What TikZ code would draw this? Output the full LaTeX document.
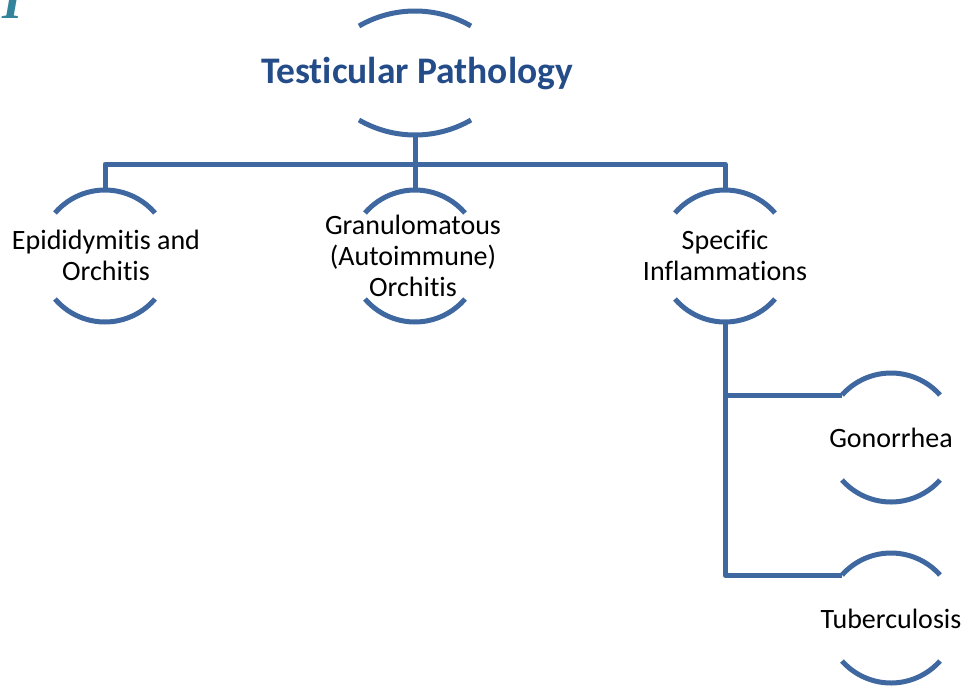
\documentclass[tikz,border=0pt]{standalone}
\usepackage{fontspec}
\setmainfont{Carlito}[Ligatures={NoCommon}]
\newfontfamily\fragserif{Liberation Serif}
\definecolor{arcblue}{RGB}{64,104,160}
\definecolor{titleblue}{RGB}{36,76,136}
\definecolor{slideteal}{RGB}{49,132,155}
\tikzset{
  arcline/.style={draw=arcblue, line width=5pt, line cap=butt},
  conn/.style={draw=arcblue, line width=5pt, line join=round},
  bodytext/.style={font=\fontsize{28}{31}\selectfont, align=center, inner sep=0pt, text=black},
  titletext/.style={font=\bfseries\fontsize{37.5}{40}\selectfont, inner sep=0pt, text=titleblue},
}
% name, cx, cy, half-width, sag, apex offset
\newcommand\arcpair[6]{%
  \pgfmathsetmacro\arcrr{(#4*#4+#5*#5)/(2*#5)}%
  \pgfmathsetmacro\arcaa{asin(#4/\arcrr)}%
  \coordinate (#1-t) at (#2,#3-#6);
  \coordinate (#1-b) at (#2,#3+#6);
  \coordinate (#1-tl) at (#2-#4,#3-#6+#5);
  \coordinate (#1-bl) at (#2-#4,#3+#6-#5);
  \draw[arcline] (#1-tl) arc[start angle=-90-\arcaa, end angle=-90+\arcaa, radius=\arcrr];
  \draw[arcline] (#1-bl) arc[start angle=90+\arcaa, end angle=90-\arcaa, radius=\arcrr];
}
\begin{document}
\begin{tikzpicture}[x=1pt,y=-1pt]
\useasboundingbox (0,0) rectangle (969,686);

% fragment of slide title letter
\node[anchor=base west, inner sep=0pt, text=slideteal,
      font=\fragserif\bfseries\itshape\fontsize{52}{52}\selectfont] (frag) at (2,18) {I};

% arcs
\arcpair{root}{415}{73}{56}{15}{62}
\arcpair{epi}{105}{256}{50}{23}{66}
\arcpair{gran}{415}{256}{50}{23}{66}
\arcpair{spec}{725}{256}{50}{23}{66}
\arcpair{gon}{891}{437.5}{49}{22}{64.5}
\arcpair{tub}{891}{618}{49}{22}{65}

% labels
\node[titletext] (rootlbl) at (417,74) {Testicular Pathology};
\node[bodytext] (epilbl) at (106,255) {Epididymitis and\\Orchitis};
\node[bodytext] (granlbl) at (413,256) {Granulomatous\\(Autoimmune)\\Orchitis};
\node[bodytext] (speclbl) at (725,255) {Specific\\Inflammations};
\node[bodytext] (gonlbl) at (891,438) {Gonorrhea};
\node[bodytext] (tublbl) at (891,619) {Tuberculosis};

% connectors
\coordinate (bus) at (0,164);
\draw[conn] (root-b) -- (root-b |- bus);
\draw[conn] (epi-t) -- (epi-t |- bus) -- (spec-t |- bus) -- (spec-t);
\draw[conn] (gran-t) -- (gran-t |- bus);
\draw[conn] (spec-b) |- (gon-tl);
\draw[conn] (spec-b) |- (tub-tl);
\end{tikzpicture}
\end{document}
